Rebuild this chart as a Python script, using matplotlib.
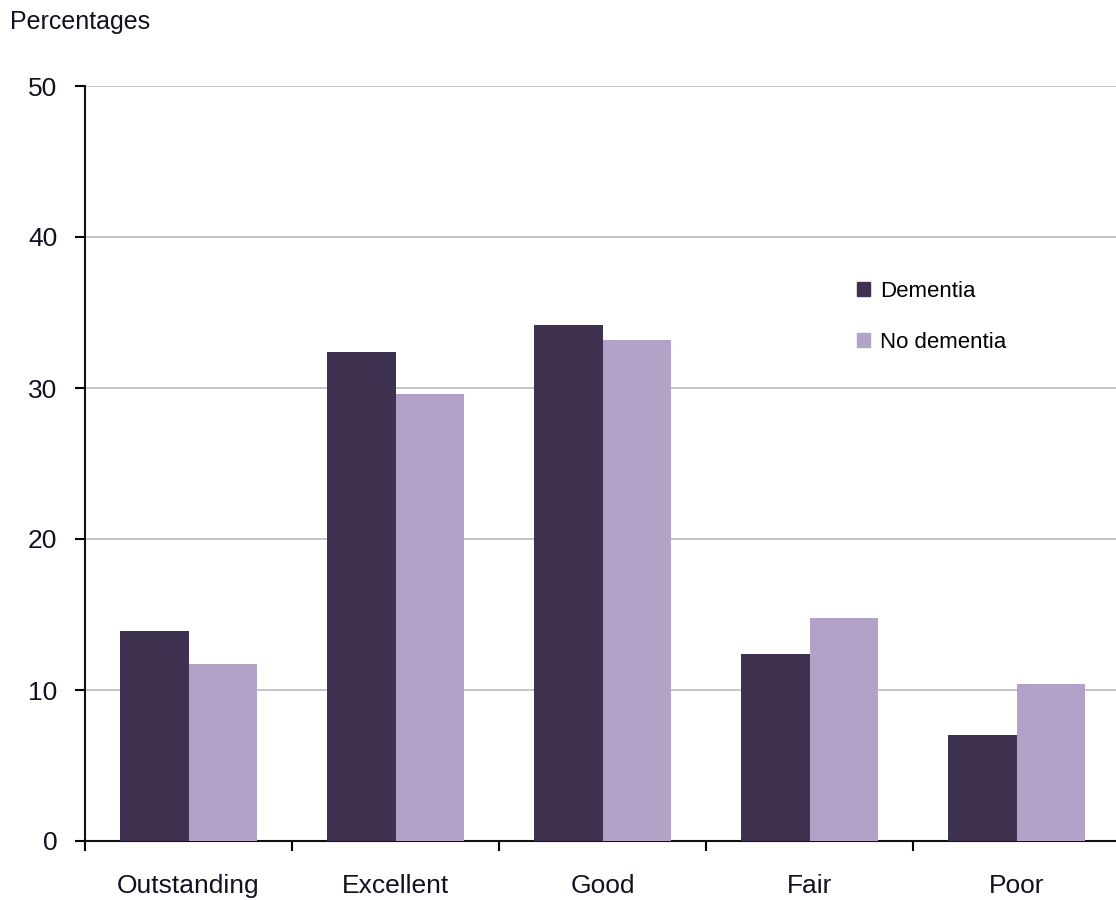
import numpy as np
import matplotlib
matplotlib.use('Agg')
import matplotlib.pyplot as plt
from matplotlib.patches import Patch

plt.rcParams['font.family'] = ['Liberation Sans', 'DejaVu Sans']

categories = ["Outstanding", "Excellent", "Good", "Fair", "Poor"]
dementia = [13.9, 32.4, 34.2, 12.4, 7.0]
no_dementia = [11.7, 29.6, 33.2, 14.8, 10.4]
series_names = ["Dementia", "No dementia"]

DARK = "#3f3150"
LIGHT = "#b3a2c8"

W, H = 1116, 900
fig = plt.figure(figsize=(W / 100, H / 100), dpi=100)
# axes run slightly past the right edge, as in the reference
left, right, top, bottom = 85, 1120, 86, 841
ax = fig.add_axes([left / W, 1 - bottom / H, (right - left) / W, (bottom - top) / H])

x = np.arange(len(categories))
bw = 0.33
ax.bar(x - bw / 2, dementia, bw, color=DARK, zorder=3)
ax.bar(x + bw / 2, no_dementia, bw, color=LIGHT, zorder=3)

ax.set_xlim(-0.5, len(categories) - 0.5)
ax.set_ylim(0, 50)
ax.set_yticks(range(0, 51, 10))
ax.yaxis.grid(True, color="#c0c0c0", linewidth=1.3, zorder=0)

ax.set_xticks(np.arange(len(categories) + 1) - 0.5)
ax.set_xticklabels([])
ax.set_xticks(x, minor=True)
ax.set_xticklabels(categories, minor=True, fontsize=19, color="#111122")
ax.tick_params(axis='x', which='minor', length=0, pad=24)
ax.tick_params(axis='x', which='major', length=7, width=1.5, direction='out')
ax.tick_params(axis='y', length=7, width=1.5, direction='out', labelsize=19,
               labelcolor="#111122", pad=13)

for s in ("top", "right"):
    ax.spines[s].set_visible(False)
for s in ("left", "bottom"):
    ax.spines[s].set_linewidth(1.5)
    ax.spines[s].set_color("#111111")

fig.text(10 / W, 1 - 22 / H, "Percentages", fontsize=18, va='center',
         ha='left', color="#111122")

handles = [Patch(color=DARK), Patch(color=LIGHT)]
fig.legend(handles, series_names, loc='upper left',
           bbox_to_anchor=(848 / W, 1 - 272 / H), frameon=False,
           fontsize=16, handlelength=0.6, handleheight=0.6,
           handletextpad=0.45, labelspacing=1.35, borderaxespad=0)

fig.savefig("out.png", dpi=100)
